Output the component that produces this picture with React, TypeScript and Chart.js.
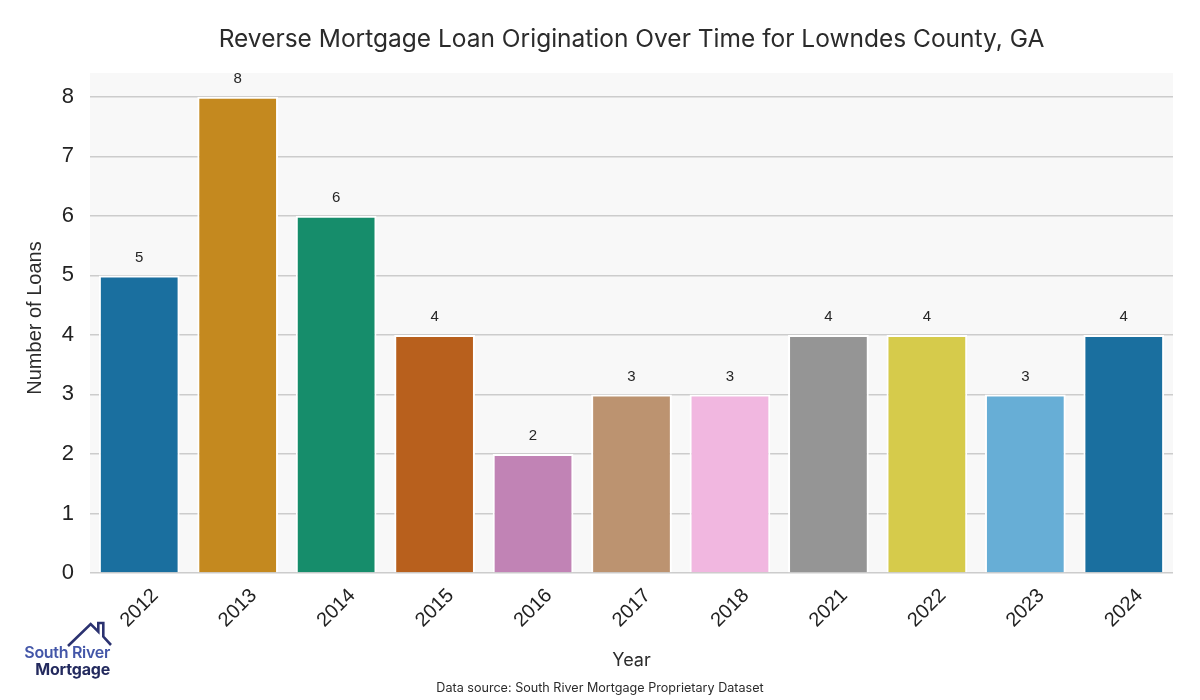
import React, { useEffect, useRef } from "react";
import { Chart, registerables } from "chart.js";

Chart.register(...registerables);

const years = ["2012", "2013", "2014", "2015", "2016", "2017", "2018", "2021", "2022", "2023", "2024"];
const loans = [5, 8, 6, 4, 2, 3, 3, 4, 4, 3, 4];
const barColors = [
  "#1a6f9f",
  "#c4891f",
  "#168d6b",
  "#b8601d",
  "#c183b5",
  "#bc9370",
  "#f1b7e0",
  "#959595",
  "#d6cb4b",
  "#67aed6",
  "#1a6f9f",
];
const yTicks = [0, 1, 2, 3, 4, 5, 6, 7, 8];

const titleText = "Reverse Mortgage Loan Origination Over Time for Lowndes County, GA";
const xTitle = "Year";
const yTitle = "Number of Loans";
const sourceText = "Data source: South River Mortgage Proprietary Dataset";

const bgPlugin = {
  id: "plotBg",
  beforeDraw(chart: any) {
    const { ctx, chartArea } = chart;
    ctx.save();
    ctx.fillStyle = "#ffffff";
    ctx.fillRect(0, 0, chart.width, chart.height);
    ctx.fillStyle = "#f8f8f8";
    ctx.fillRect(chartArea.left, chartArea.top, chartArea.right - chartArea.left, chartArea.bottom - chartArea.top);
    ctx.restore();
  },
};

const textPlugin = {
  id: "texts",
  afterDraw(chart: any) {
    const { ctx, chartArea } = chart;
    const cx = (chartArea.left + chartArea.right) / 2;
    ctx.save();
    ctx.textAlign = "center";
    ctx.textBaseline = "middle";
    ctx.fillStyle = "#2b2b2b";
    ctx.font = "24.5px Inter";
    ctx.fillText(titleText, cx, 40);
    ctx.font = "18px Inter";
    ctx.fillText(xTitle, cx, 661);
    ctx.font = "12.6px Inter";
    ctx.fillText(sourceText, chart.width / 2, 688);
    ctx.save();
    ctx.translate(35, 318);
    ctx.rotate(-Math.PI / 2);
    ctx.font = "20px 'Liberation Sans'";
    ctx.fillText(yTitle, 0, 0);
    ctx.restore();

    const meta = chart.getDatasetMeta(0);
    ctx.font = "15px 'Liberation Sans'";
    ctx.fillStyle = "#262626";
    meta.data.forEach((bar: any, i: number) => {
      ctx.fillText(String(loans[i]), bar.x, bar.y - 18);
    });
    ctx.restore();
  },
};

function Logo() {
  return (
    <div style={{ position: "absolute", left: 0, top: 618, width: 120, height: 70 }}>
      <svg width="120" height="70" style={{ position: "absolute", left: 0, top: 0 }}>
        <polyline
          points="68,28 90.7,6 98.3,13.6 98.3,5 103.3,5 103.3,18.6 111,27"
          fill="none"
          stroke="#2b3270"
          strokeWidth="2.6"
        />
      </svg>
      <div
        style={{
          position: "absolute",
          right: 10,
          top: 26,
          fontFamily: "Inter",
          fontWeight: 600,
          fontSize: 16,
          lineHeight: "16px",
          color: "#4356a8",
          whiteSpace: "nowrap",
          letterSpacing: "-0.3px",
        }}
      >
        South River
      </div>
      <div
        style={{
          position: "absolute",
          right: 10,
          top: 42,
          fontFamily: "Inter",
          fontWeight: 700,
          fontSize: 16,
          lineHeight: "18px",
          color: "#232a5e",
          whiteSpace: "nowrap",
          letterSpacing: "-0.2px",
        }}
      >
        Mortgage
      </div>
    </div>
  );
}

export default function App() {
  const ref = useRef<HTMLCanvasElement>(null);
  useEffect(() => {
    if (!ref.current) return;
    const chart = new Chart(ref.current, {
      type: "bar",
      data: {
        labels: years,
        datasets: [
          {
            data: loans,
            backgroundColor: barColors,
            borderColor: "#ffffff",
            borderWidth: 2,
            borderSkipped: "start",
            barPercentage: 0.82,
            categoryPercentage: 1,
          },
        ],
      },
      options: {
        responsive: false,
        animation: false,
        devicePixelRatio: 1,
        layout: { padding: { left: 0, right: 27, top: 73, bottom: 0 } },
        plugins: {
          legend: { display: false },
          title: { display: false },
          tooltip: { enabled: false },
        },
        scales: {
          x: {
            offset: true,
            grid: { display: false, drawTicks: false },
            border: { display: false },
            ticks: {
              color: "#222222",
              font: { family: "'Liberation Sans'", size: 20 },
              minRotation: 45,
              maxRotation: 45,
              padding: 11,
              labelOffset: 16,
            },
            afterFit(scale: any) {
              scale.height = 127;
            },
          },
          y: {
            min: 0,
            max: 8.4,
            afterBuildTicks(scale: any) {
              scale.ticks = yTicks.map((v) => ({ value: v }));
            },
            grid: { color: "#cccccc", lineWidth: 1.5, drawTicks: false },
            border: { display: false },
            ticks: {
              color: "#222222",
              font: { family: "'Liberation Sans'", size: 22 },
              padding: 16,
            },
            afterFit(scale: any) {
              scale.width = 90;
            },
          },
        },
      },
      plugins: [bgPlugin, textPlugin],
    });
    return () => chart.destroy();
  }, []);
  return (
    <div style={{ position: "fixed", left: 0, top: 0, width: 1200, height: 700, background: "#fff" }}>
      <canvas ref={ref} width={1200} height={700} style={{ display: "block" }} />
      <Logo />
    </div>
  );
}
